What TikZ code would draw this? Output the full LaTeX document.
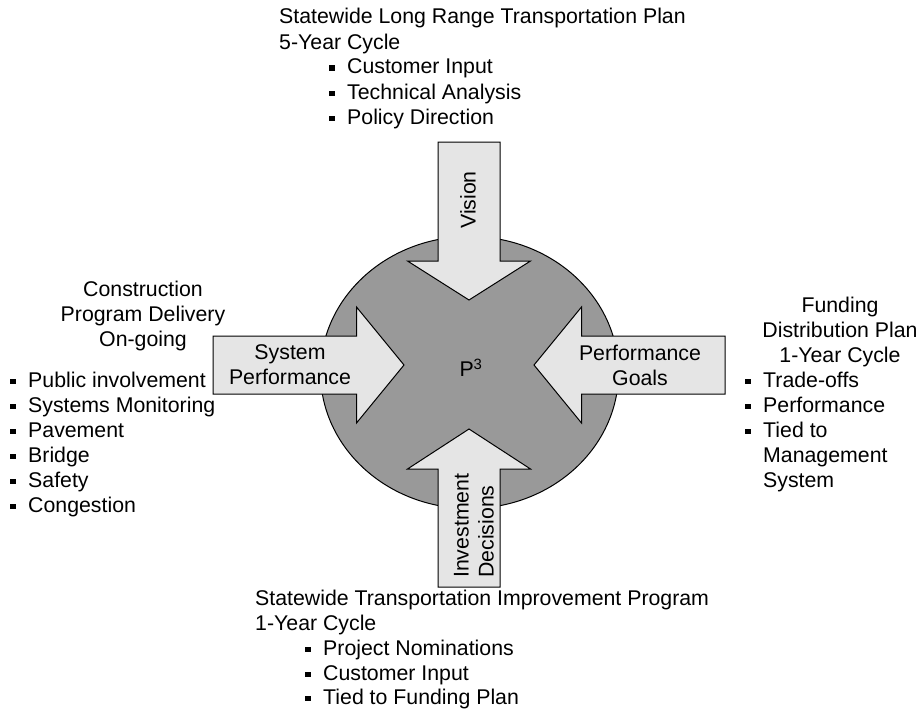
\documentclass[tikz,border=0pt]{standalone}
\usepackage{fontspec}
\setmainfont{Liberation Sans}
\usetikzlibrary{positioning}
\definecolor{hubgray}{gray}{0.6}
\definecolor{arrowgray}{gray}{0.9}
\newcommand{\sqbullet}{\makebox[18pt][l]{\rule[3pt]{5.5pt}{5.5pt}}}

\begin{document}
\begin{tikzpicture}[
    x=1pt, y=-1pt,
    txt/.style={font=\fontsize{21.3}{25}\selectfont, inner sep=0pt},
    line/.style={txt, anchor=base west},
    ctr/.style={txt, anchor=base},
    blockarrow/.style={fill=arrowgray, draw=black, line width=1pt, line join=miter},
  ]
  \useasboundingbox (0,0) rectangle (920,709);

  % ===== HUB: grey disc =====
  \coordinate (hub) at (469,365);
  \filldraw[fill=hubgray, draw=black, line width=1pt]
    (469.5,372.5) ellipse [x radius=149, y radius=136];

  % ===== FOUR BLOCK ARROWS =====
  % top (Vision)
  \filldraw[blockarrow, shift={(hub)}] (-31,-223) -- (31,-223) -- (31,-104)
    -- (61.5,-104) -- (0,-65) -- (-61.5,-104) -- (-31,-104) -- cycle;
  % bottom (Investment Decisions)
  \filldraw[blockarrow, shift={(hub)}] (-31,222) -- (31,222) -- (31,104)
    -- (61.5,104) -- (0,64) -- (-61.5,104) -- (-31,104) -- cycle;
  % left (System Performance)
  \filldraw[blockarrow, shift={(hub)}] (-256,-29) -- (-112.5,-29) -- (-112.5,-58)
    -- (-65,0) -- (-112.5,58) -- (-112.5,29) -- (-256,29) -- cycle;
  % right (Performance Goals)
  \filldraw[blockarrow, shift={(hub)}] (256,-29) -- (112.5,-29) -- (112.5,-58)
    -- (65,0) -- (112.5,58) -- (112.5,29) -- (256,29) -- cycle;

  % arrow labels
  \node[txt] (pcube) at (471,368) {P\textsuperscript{3}};
  \node[txt, rotate=90] (vision) at (468,200) {Vision};
  \node[txt, rotate=90, anchor=west, align=left] (invest) at (474,578) {Investment\\Decisions};
  \node[txt, align=center] (sysperf) at (290,365) {System\\Performance};
  \node[txt, align=center] (perfgoals) at (640,365) {Performance\\Goals};

  % ===== TOP: long range plan =====
  \node[line] (plan-title) at (279,24) {Statewide Long Range Transportation Plan};
  \node[line] (plan-cycle) at (279,49) {5-Year Cycle};
  \foreach \yy/\lbl [count=\i] in {74/Customer Input, 99/Technical Analysis, 124/Policy Direction}
    \node[line] (plan-\i) at (329,\yy) {\sqbullet\lbl};

  % ===== LEFT: construction program =====
  \foreach \yy/\lbl [count=\i] in {296/Construction, 321/Program Delivery, 346/On-going}
    \node[ctr] (cons-head-\i) at (143,\yy) {\lbl};
  \foreach \yy/\lbl [count=\i] in {387/Public involvement, 412/Systems Monitoring,
      437/Pavement, 462/Bridge, 487/Safety, 512/Congestion}
    \node[line] (cons-\i) at (10,\yy) {\sqbullet\lbl};

  % ===== RIGHT: funding distribution plan =====
  \foreach \yy/\lbl [count=\i] in {312/Funding, 337/Distribution Plan, 362/1-Year Cycle}
    \node[ctr] (fund-head-\i) at (840,\yy) {\lbl};
  \foreach \yy/\lbl [count=\i] in {387/Trade-offs, 412/Performance, 437/Tied to}
    \node[line] (fund-\i) at (745,\yy) {\sqbullet\lbl};
  \node[line] (fund-4) at (763,462) {Management};
  \node[line] (fund-5) at (763,487) {System};

  % ===== BOTTOM: improvement program =====
  \node[line] (stip-title) at (255,605) {Statewide Transportation Improvement Program};
  \node[line] (stip-cycle) at (255,630) {1-Year Cycle};
  \foreach \yy/\lbl [count=\i] in {655/Project Nominations, 680/Customer Input, 704/Tied to Funding Plan}
    \node[line] (stip-\i) at (305,\yy) {\sqbullet\lbl};

\end{tikzpicture}
\end{document}
